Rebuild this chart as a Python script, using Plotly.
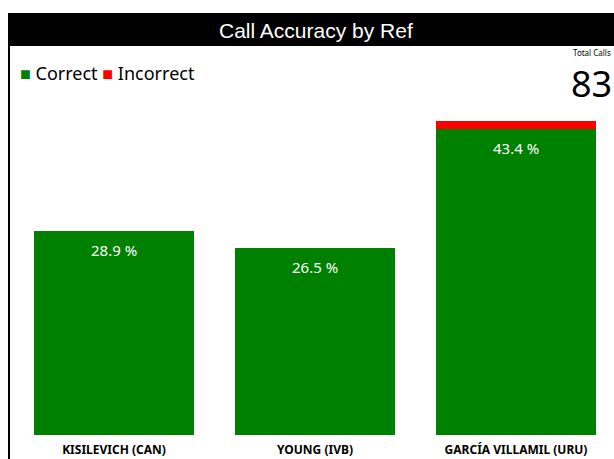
import plotly.graph_objects as go

categories = ["KISILEVICH (CAN)", "YOUNG (IVB)", "GARCÍA VILLAMIL (URU)"]
correct = [24, 22, 36]
incorrect = [0, 0, 1]
total_calls = 83
title_text = "Call Accuracy by Ref"

W, H = 614, 459
ML, MR, MT, MB = 14, 10, 95, 24
PW, PH = W - ML - MR, H - MT - MB

def px(x):
    return (x - ML) / PW

def py(y):
    return (H - MB - y) / PH

pct = [c / total_calls * 100 for c in correct]

fig = go.Figure()
fig.add_trace(go.Bar(x=categories, y=correct, name="Correct", marker_color="#008000",
                     marker_line_width=0))
fig.add_trace(go.Bar(x=categories, y=incorrect, name="Incorrect", marker_color="#FF0000",
                     marker_line_width=0))

for cat, c, p in zip(categories, correct, pct):
    fig.add_annotation(x=cat, y=c, text=f"{p:.1f} %", showarrow=False, yanchor="top",
                       yshift=-7, font=dict(family="Noto Sans", size=15, color="white"))

# title bar
fig.add_shape(type="rect", xref="paper", yref="paper", x0=px(8), x1=px(616), y0=py(46), y1=py(13),
              fillcolor="black", line_width=0, layer="below")
fig.add_shape(type="line", xref="paper", yref="paper", x0=px(9), x1=px(9), y0=py(460), y1=py(13),
              line=dict(color="black", width=2), layer="below")
fig.add_annotation(xref="paper", yref="paper", x=px(316), y=py(30), xanchor="center", yanchor="middle",
                   text=title_text, showarrow=False,
                   font=dict(family="Liberation Sans", size=21, color="white"))

# legend as text
fig.add_annotation(xref="paper", yref="paper", x=px(18), y=py(73), xanchor="left", yanchor="middle",
                   text="<span style='color:#008000'>■</span> Correct <span style='color:#FF0000'>■</span> Incorrect",
                   showarrow=False, font=dict(family="Noto Sans", size=18, color="black"))

fig.add_annotation(xref="paper", yref="paper", x=px(592), y=py(52), xanchor="center", yanchor="middle",
                   text="Total Calls", showarrow=False, borderpad=0,
                   font=dict(family="Noto Sans", size=8, color="black"))
fig.add_annotation(xref="paper", yref="paper", x=px(591), y=py(84), xanchor="center", yanchor="middle",
                   text=str(total_calls), showarrow=False, borderpad=0,
                   font=dict(family="Noto Sans", size=36, color="black"))

fig.update_layout(
    barmode="stack", bargap=0.204, width=W, height=H,
    margin=dict(l=ML, r=MR, t=MT, b=MB, pad=0, autoexpand=False),
    plot_bgcolor="rgba(0,0,0,0)", paper_bgcolor="white", showlegend=False,
    xaxis=dict(range=[-0.4975, 2.4378], showgrid=False, showline=False, zeroline=False,
               automargin=False, ticklabelstandoff=6,
               tickfont=dict(family="Noto Sans", size=12, color="black", weight="bold"), ticks=""),
    yaxis=dict(range=[0, 40], visible=False, automargin=False),
)
fig.write_html("out.html", post_script="document.body.style.margin='0';",
               config={"displayModeBar": False})
